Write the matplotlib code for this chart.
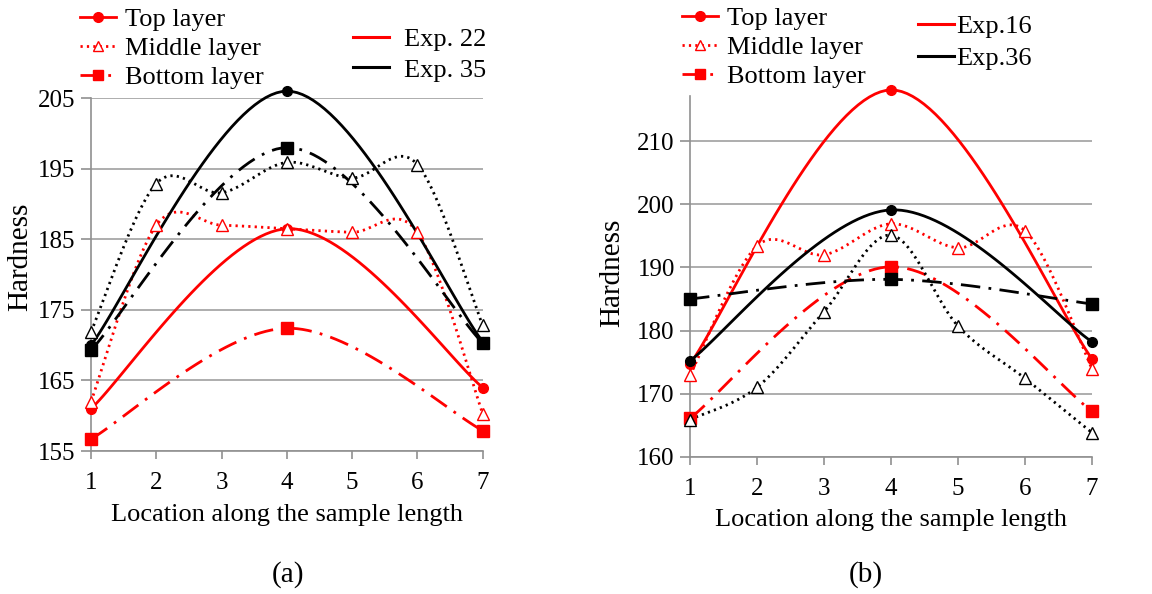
import matplotlib.pyplot as plt
import numpy as np
from matplotlib.lines import Line2D

plt.rcParams["font.family"] = "Liberation Serif"
plt.rcParams["font.size"] = 18

# ---- data ----
loc_all = [1, 2, 3, 4, 5, 6, 7]
loc_end = [1, 4, 7]

# (a)
exp22_top = [161, 186.5, 164]
exp22_mid = [162, 187, 187, 186.5, 186, 186, 160.3]
exp22_bot = [156.7, 172.4, 157.9]
exp35_top = [170, 206, 170.5]
exp35_mid = [171.9, 192.9, 191.6, 195.9, 193.7, 195.6, 172.8]
exp35_bot = [169.3, 198, 170.3]

# (b)
exp16_top = [174.7, 218.1, 175.5]
exp16_mid = [172.9, 193.4, 192, 196.9, 193.1, 195.8, 173.9]
exp16_bot = [166.1, 190.1, 167.2]
exp36_top = [175.2, 199.1, 178.2]
exp36_mid = [165.9, 171, 183, 195.1, 180.7, 172.4, 163.8]
exp36_bot = [185, 188.1, 184.2]

layer_labels = ["Top layer", "Middle layer", "Bottom layer"]


def smooth(x, y, n=40):
    # Excel-like smoothed line (Catmull-Rom Bezier)
    p = np.column_stack([x, y]).astype(float)
    p = np.vstack([p[0], p, p[-1]])
    t = np.linspace(0, 1, n)[:, None]
    segs = []
    for i in range(1, len(p) - 2):
        p0, p1, p2, p3 = p[i - 1], p[i], p[i + 1], p[i + 2]
        c1 = p1 + (p2 - p0) / 6
        c2 = p2 - (p3 - p1) / 6
        b = ((1 - t) ** 3) * p1 + 3 * ((1 - t) ** 2) * t * c1 \
            + 3 * (1 - t) * t ** 2 * c2 + t ** 3 * p2
        segs.append(b)
    s = np.vstack(segs)
    return s[:, 0], s[:, 1]


DOT = (0, (0.8, 1.5))
DASHDOT = (0, (7, 3, 1, 3))


def draw_set(ax, top, mid, bot, color):
    xs, ys = smooth(loc_end, top)
    ax.plot(xs, ys, color=color, lw=2, clip_on=False, zorder=3)
    ax.plot(loc_end, top, ls="none", marker="o", ms=7, color=color,
            clip_on=False, zorder=4)
    xs, ys = smooth(loc_all, mid)
    ax.plot(xs, ys, color=color, lw=2, ls=DOT, clip_on=False, zorder=3)
    ax.plot(loc_all, mid, ls="none", marker="^", ms=8, mfc="white",
            mec=color, mew=1, clip_on=False, zorder=4)
    xs, ys = smooth(loc_end, bot)
    ax.plot(xs, ys, color=color, lw=2, ls=DASHDOT, clip_on=False, zorder=3)
    ax.plot(loc_end, bot, ls="none", marker="s", ms=8, color=color,
            clip_on=False, zorder=4)


def style_axes(ax, ylim, yticks, ylab_xy):
    ax.set_xlim(1, 7)
    ax.set_ylim(*ylim)
    ax.set_xticks(loc_all)
    ax.set_yticks(yticks)
    ax.grid(axis="y", color="#a0a0a0", lw=1.2)
    ax.set_axisbelow(True)
    for s in ["top", "right"]:
        ax.spines[s].set_visible(False)
    for s in ["left", "bottom"]:
        ax.spines[s].set_color("#909090")
        ax.spines[s].set_linewidth(1.2)
    ax.tick_params(axis="y", length=7, color="#909090", width=1.2, pad=4,
                   labelsize=18)
    ax.tick_params(axis="x", length=6, color="#909090", width=1.2, pad=9,
                   labelsize=18)
    ax.set_xlabel("Location along the sample length", fontsize=19,
                  labelpad=7)
    ax.set_ylabel("Hardness", fontsize=21)
    ax.yaxis.set_label_coords(*ylab_xy)


def layer_handles():
    return [
        Line2D([], [], color="red", lw=2, marker="o", ms=7),
        Line2D([], [], color="red", lw=2, ls=DOT, marker="^", ms=7,
               mfc="white", mew=1),
        Line2D([], [], color="red", lw=2, ls=DASHDOT, marker="s", ms=7),
    ]


fig = plt.figure(figsize=(11.52, 5.94), dpi=100)
ax1 = fig.add_axes([0.079, 0.2407, 0.340, 0.594])
ax2 = fig.add_axes([0.599, 0.231, 0.349, 0.608])

draw_set(ax1, exp22_top, exp22_mid, exp22_bot, "red")
draw_set(ax1, exp35_top, exp35_mid, exp35_bot, "black")
style_axes(ax1, (155, 205), [155, 165, 175, 185, 195, 205],
           ((33 - 91) / 392, (451 - 257) / 353))

draw_set(ax2, exp16_top, exp16_mid, exp16_bot, "red")
draw_set(ax2, exp36_top, exp36_mid, exp36_bot, "black")
style_axes(ax2, (160, 217.2), [160, 170, 180, 190, 200, 210],
           ((625 - 690) / 402, (457 - 273) / 361))

leg_kw = dict(frameon=False, loc="upper left", fontsize=19, borderpad=0,
              borderaxespad=0, handlelength=1.35, handletextpad=0.35,
              labelspacing=0.2)

fig.legend(layer_handles(), layer_labels,
           bbox_to_anchor=(80 / 1152, 1 - 8 / 594), **leg_kw)
fig.legend([Line2D([], [], color="red", lw=2.2),
            Line2D([], [], color="black", lw=2.2)],
           ["Exp. 22", "Exp. 35"],
           bbox_to_anchor=(353 / 1152, 1 - 28 / 594),
           **{**leg_kw, "handletextpad": 0.6, "labelspacing": 0.25})

fig.legend(layer_handles(), layer_labels,
           bbox_to_anchor=(682 / 1152, 1 - 7 / 594), **leg_kw)
fig.legend([Line2D([], [], color="red", lw=2.2),
            Line2D([], [], color="black", lw=2.2)],
           ["Exp.16", "Exp.36"],
           bbox_to_anchor=(918 / 1152, 1 - 15 / 594),
           **{**leg_kw, "handletextpad": 0.1, "labelspacing": 0.32})

fig.text(288 / 1152, 1 - 575 / 594, "(a)", ha="center", va="center",
         fontsize=21)
fig.text(866 / 1152, 1 - 575 / 594, "(b)", ha="center", va="center",
         fontsize=21)

fig.savefig("out.png", dpi=100)
